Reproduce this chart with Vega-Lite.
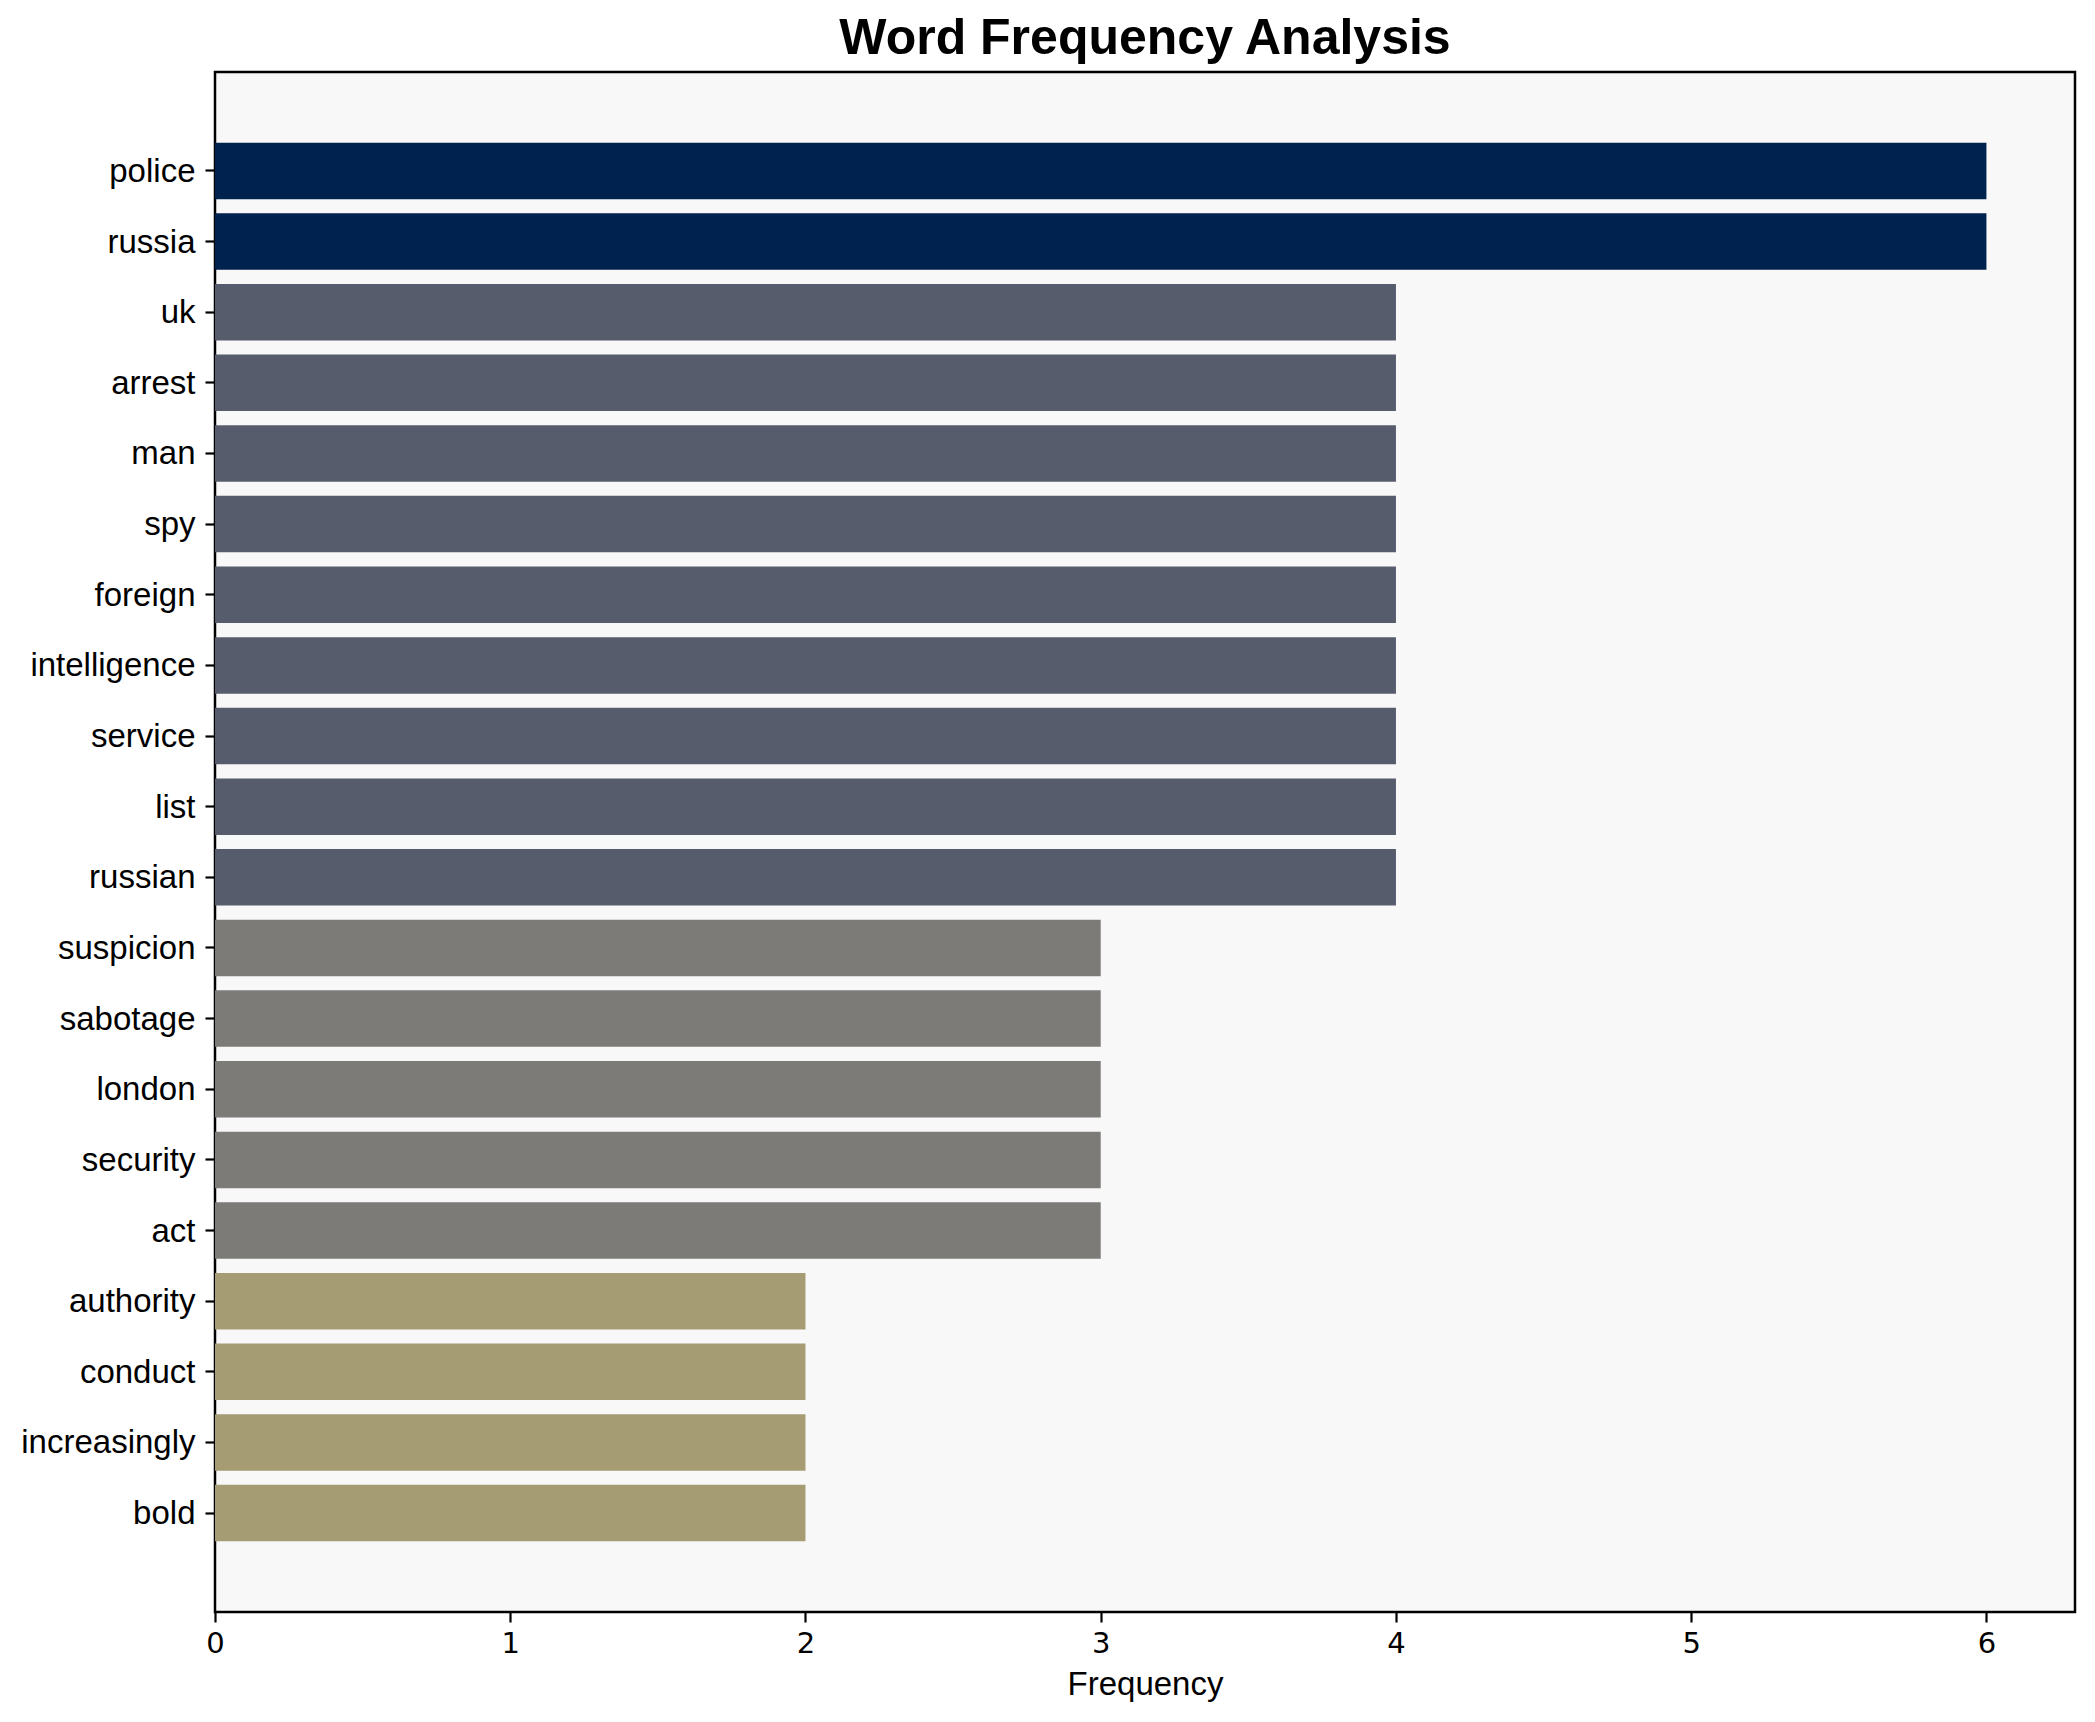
{
  "$schema": "https://vega.github.io/schema/vega-lite/v6.json",
  "width": 1860,
  "height": 1540,
  "autosize": {"type": "none"},
  "padding": {"left": 215, "top": 72, "right": 20, "bottom": 110},
  "background": "white",
  "title": {
    "text": "Word Frequency Analysis",
    "font": "Liberation Sans",
    "fontSize": 50,
    "fontWeight": "bold",
    "color": "black",
    "anchor": "middle",
    "frame": "group",
    "baseline": "bottom",
    "offset": 5,
    "dy": 47
  },
  "config": {
    "view": {"fill": "#f8f8f8", "stroke": "black", "strokeWidth": 2.5}
  },
  "data": {
    "values": [
      {"word": "police", "frequency": 6},
      {"word": "russia", "frequency": 6},
      {"word": "uk", "frequency": 4},
      {"word": "arrest", "frequency": 4},
      {"word": "man", "frequency": 4},
      {"word": "spy", "frequency": 4},
      {"word": "foreign", "frequency": 4},
      {"word": "intelligence", "frequency": 4},
      {"word": "service", "frequency": 4},
      {"word": "list", "frequency": 4},
      {"word": "russian", "frequency": 4},
      {"word": "suspicion", "frequency": 3},
      {"word": "sabotage", "frequency": 3},
      {"word": "london", "frequency": 3},
      {"word": "security", "frequency": 3},
      {"word": "act", "frequency": 3},
      {"word": "authority", "frequency": 2},
      {"word": "conduct", "frequency": 2},
      {"word": "increasingly", "frequency": 2},
      {"word": "bold", "frequency": 2}
    ]
  },
  "mark": {"type": "bar"},
  "encoding": {
    "y": {
      "field": "word",
      "type": "nominal",
      "sort": null,
      "scale": {"paddingInner": 0.2, "paddingOuter": 1.01},
      "axis": {
        "title": null,
        "domain": false,
        "ticks": true,
        "tickSize": 10,
        "tickWidth": 2.2,
        "tickColor": "black",
        "labelFont": "Liberation Sans",
        "labelFontSize": 33,
        "labelColor": "black",
        "labelPadding": 10,
        "labelBaseline": "middle",
        "labelOffset": 1
      }
    },
    "x": {
      "field": "frequency",
      "type": "quantitative",
      "scale": {"domain": [0, 6.3], "nice": false, "zero": true},
      "axis": {
        "title": "Frequency",
        "titleFont": "Liberation Sans",
        "titleFontSize": 33,
        "titleFontWeight": "normal",
        "titleColor": "black",
        "titlePadding": 10,
        "values": [0, 1, 2, 3, 4, 5, 6],
        "format": "d",
        "grid": false,
        "domain": false,
        "tickSize": 10,
        "tickWidth": 2.2,
        "tickColor": "black",
        "labelFont": "DejaVu Sans",
        "labelFontSize": 29,
        "labelColor": "black",
        "labelPadding": 7,
        "labelFlush": false
      }
    },
    "color": {
      "field": "frequency",
      "type": "ordinal",
      "scale": {"domain": [6, 4, 3, 2], "range": ["#00224e", "#575c6d", "#7c7b78", "#a59c74"]},
      "legend": null
    }
  }
}
